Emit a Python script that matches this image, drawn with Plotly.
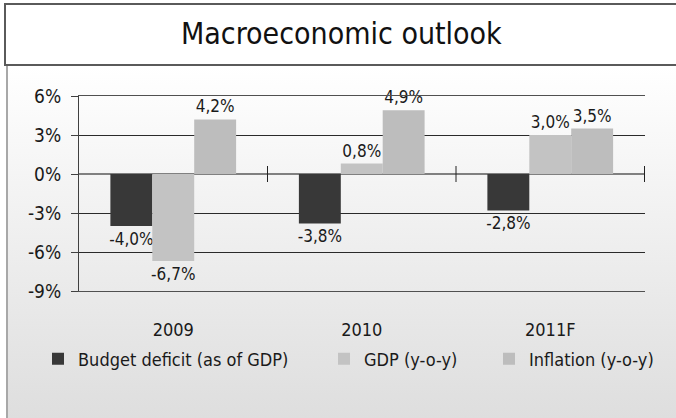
import plotly.graph_objects as go

years = ["2009", "2010", "2011F"]
budget_deficit = [-4.0, -3.8, -2.8]
gdp = [-6.7, 0.8, 3.0]
inflation = [4.2, 4.9, 3.5]
series_names = ["Budget deficit (as of GDP)", "GDP (y-o-y)", "Inflation (y-o-y)"]
y_ticks = [-9, -6, -3, 0, 3, 6]
y_tick_labels = ["-9%", "-6%", "-3%", "0%", "3%", "6%"]

W, H = 676, 418
FAM = "DejaVu Sans Condensed, Liberation Sans, sans-serif"
colors = ["#383838", "#c3c3c3", "#bdbdbd"]
legend_ids = ["legend", "legend2", "legend3"]
legend_x = [38, 324, 489]  # px, left edge of each legend box

def lbl(v):
    return f"{v:.1f}%".replace(".", ",")

def fnt(size, color="#1a1a1a"):
    return dict(family=FAM, size=size, color=color)

fig = go.Figure()

# background panel (pixel coordinates on a hidden full-page axis)
fig.add_trace(go.Scatter(
    x=[7, 690, 690, 7, 7], y=[66, 66, 430, 430, 66], mode="lines", fill="toself",
    line=dict(width=0), fillgradient=dict(type="vertical", start=66, stop=418,
                                           colorscale=[[0, "#ffffff"], [1, "#dedede"]]),
    hoverinfo="skip", showlegend=False, xaxis="x", yaxis="y"))

for name, vals, col, lg in zip(series_names, [budget_deficit, gdp, inflation], colors, legend_ids):
    fig.add_trace(go.Bar(
        x=years, y=vals, name=name, marker=dict(color=col, line=dict(width=0)),
        text=[lbl(v) for v in vals], textposition="outside", constraintext="none",
        cliponaxis=False, textfont=fnt(17), legend=lg,
        xaxis="x2", yaxis="y2"))

# category boundary ticks crossing the zero line
for i in range(len(years)):
    fig.add_shape(type="line", xref="x2", yref="y2", x0=i + 0.5, x1=i + 0.5,
                  ysizemode="pixel", yanchor=0, y0=-8, y1=8,
                  line=dict(color="#222", width=1))

# title box + panel left border
fig.add_shape(type="rect", xref="x", yref="y", x0=5, x1=690, y0=4, y1=65,
              fillcolor="white", line=dict(color="#5a5a5a", width=2))
fig.add_shape(type="line", xref="x", yref="y", x0=7, x1=7, y0=66, y1=430,
              line=dict(color="#a8a8a8", width=2))
fig.add_annotation(text="Macroeconomic outlook", xref="x", yref="y", x=341, y=33,
                   showarrow=False, font=fnt(30, "#111"))

legends = {}
for lg, lx in zip(legend_ids, legend_x):
    legends[lg] = dict(orientation="h", x=lx / W, y=1 - 359 / H, xanchor="left",
                       yanchor="middle", font=fnt(18), bgcolor="rgba(0,0,0,0)")

fig.update_layout(
    template="none",
    width=W, height=H, autosize=False, margin=dict(l=0, r=0, t=0, b=0, pad=0),
    paper_bgcolor="white", plot_bgcolor="rgba(0,0,0,0)",
    barmode="group", bargap=0.333, bargroupgap=0,
    font=fnt(18),
    xaxis=dict(domain=[0, 1], range=[0, W], visible=False, fixedrange=True, automargin=False),
    yaxis=dict(domain=[0, 1], range=[H, 0], visible=False, fixedrange=True, automargin=False),
    xaxis2=dict(type="category", domain=[79 / W, 645 / W], anchor="y2", showgrid=False,
                showline=True, linecolor="#505050", linewidth=1, mirror=True,
                zeroline=False, ticks="outside", ticklen=22,
                tickcolor="rgba(0,0,0,0)", tickfont=fnt(18), automargin=False),
    yaxis2=dict(domain=[1 - 291 / H, 1 - 96 / H], anchor="x2", range=[-9, 6],
                tickvals=y_ticks, ticktext=y_tick_labels, showgrid=True,
                gridcolor="#2a2a2a", gridwidth=1, zeroline=True, zerolinecolor="#808080",
                zerolinewidth=2, showline=True, linecolor="#404040", linewidth=1,
                ticks="outside", ticklen=7, tickcolor="#404040", ticklabelstandoff=6,
                tickfont=fnt(19), automargin=False),
    showlegend=True,
    **legends,
)

fig.write_html("out.html", config={"displayModeBar": False},
               post_script="document.body.style.margin='0';"
                           "document.body.style.overflow='hidden';")
